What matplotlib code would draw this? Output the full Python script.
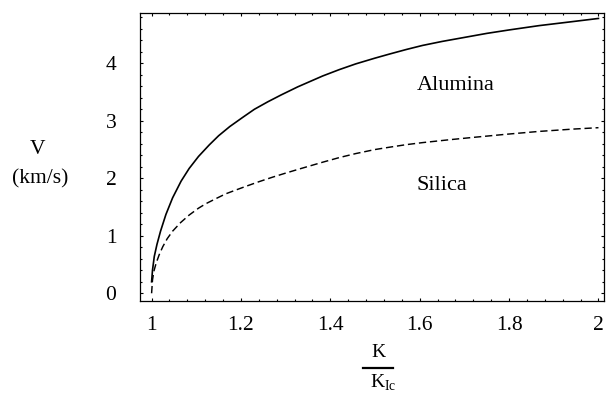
import matplotlib
matplotlib.use("Agg")
import matplotlib.pyplot as plt
from matplotlib.lines import Line2D
from matplotlib.ticker import MultipleLocator

plt.rcParams["font.family"] = ["Liberation Serif", "DejaVu Serif"]
plt.rcParams["mathtext.fontset"] = "custom"
plt.rcParams["mathtext.rm"] = "Liberation Serif"

# values (K/K_Ic, V in km/s)
alumina_k = [1.000, 1.002, 1.006, 1.012, 1.020, 1.032, 1.047, 1.066, 1.084, 1.105,
             1.129, 1.150, 1.175, 1.204, 1.230, 1.260, 1.290, 1.327, 1.383, 1.420,
             1.457, 1.500, 1.532, 1.570, 1.606, 1.650, 1.700, 1.750, 1.800, 1.867,
             1.942, 2.000]
alumina_v = [0.20, 0.40, 0.64, 0.85, 1.08, 1.37, 1.66, 1.95, 2.17, 2.38,
             2.58, 2.74, 2.90, 3.06, 3.20, 3.33, 3.45, 3.59, 3.78, 3.89,
             3.99, 4.09, 4.16, 4.24, 4.31, 4.38, 4.45, 4.52, 4.58, 4.655,
             4.725, 4.78]

silica_k = [1.000, 1.002, 1.005, 1.010, 1.017, 1.025, 1.035, 1.047, 1.065, 1.084,
            1.105, 1.122, 1.145, 1.166, 1.190, 1.211, 1.240, 1.271, 1.300, 1.330,
            1.383, 1.420, 1.457, 1.500, 1.532, 1.570, 1.606, 1.666, 1.718, 1.793,
            1.867, 1.942, 2.000]
silica_v = [0.00, 0.23, 0.38, 0.52, 0.67, 0.81, 0.95, 1.08, 1.23, 1.36,
            1.48, 1.56, 1.65, 1.73, 1.80, 1.86, 1.94, 2.02, 2.09, 2.16,
            2.28, 2.36, 2.43, 2.50, 2.54, 2.585, 2.62, 2.67, 2.71, 2.765,
            2.815, 2.855, 2.88]

x_ticks = [1, 1.2, 1.4, 1.6, 1.8, 2]
x_tick_labels = ["1", "1.2", "1.4", "1.6", "1.8", "2"]
y_ticks = [0, 1, 2, 3, 4]

fig = plt.figure(figsize=(6.11, 3.93), dpi=100)
ax = fig.add_axes([0.2291, 0.2349, 0.9890 - 0.2291, 0.9677 - 0.2349])

ax.plot(alumina_k, alumina_v, color="black", lw=1.2, solid_joinstyle="round")
ax.plot(silica_k, silica_v, color="black", lw=1.05, dashes=(5, 2.6))

ax.set_xlim(0.974, 2.013)
ax.set_ylim(-0.129, 4.88)

ax.set_xticks(x_ticks)
ax.set_xticklabels(x_tick_labels)
ax.set_yticks(y_ticks)
ax.xaxis.set_minor_locator(MultipleLocator(0.04))
ax.yaxis.set_minor_locator(MultipleLocator(0.2))

ax.tick_params(which="both", direction="in", top=True, right=True, width=0.8,
               labelsize=15.5)
ax.tick_params(axis="x", which="major", length=2.4, pad=11)
ax.tick_params(axis="y", which="major", length=2.4, pad=17)
ax.tick_params(which="minor", length=1.5)
for sp in ax.spines.values():
    sp.set_linewidth(0.9)

ax.text(1.593, 3.536, "Alumina", fontsize=16, ha="left", va="baseline")
ax.text(1.593, 1.797, "Silica", fontsize=16, ha="left", va="baseline")

# y-axis label
fig.text(37 / 611, 1 - 150 / 393, "V", fontsize=15.5, ha="center", va="center")
fig.text(40 / 611, 1 - 179 / 393, "(km/s)", fontsize=15.5, ha="center", va="center")

# x-axis label as a fraction K / K_Ic
fig.text(378.5 / 611, 1 - 357 / 393, "K", fontsize=14, ha="center", va="baseline")
fig.add_artist(Line2D([363 / 611, 393 / 611], [1 - 368 / 393, 1 - 368 / 393],
                      color="black", lw=1.6, transform=fig.transFigure))
fig.text(370 / 611, 1 - 388 / 393, r"K$_{\mathrm{Ic}}$", fontsize=14,
         ha="left", va="baseline")

fig.savefig("out.png", dpi=100)
